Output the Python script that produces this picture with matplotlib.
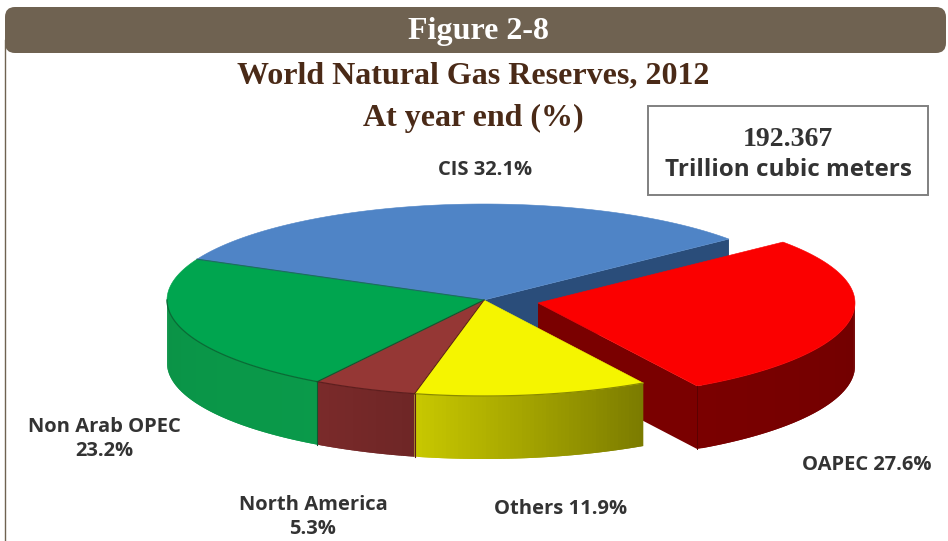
import numpy as np
import matplotlib
matplotlib.use("Agg")
import matplotlib.pyplot as plt
from matplotlib.collections import PolyCollection
from matplotlib.colors import to_rgb
from matplotlib.patches import FancyBboxPatch, Rectangle

# ---- data ----
categories = ["CIS", "Non Arab OPEC", "North America", "Others", "OAPEC"]
values = [32.1, 23.2, 5.3, 11.9, 27.6]
top_colors = ["#4f84c6", "#00a54f", "#953735", "#f5f500", "#fb0000"]
side_left = ["#2a4d7a", "#0b8f45", "#7a2a2a", "#c8c800", "#7a0000"]   # colour at the low-angle end
side_right = ["#2a4d7a", "#0a9a4a", "#6e2626", "#7a7a00", "#6c0000"]
wall_colors = {"CIS": "#2a4d7a", "OAPEC": "#7a0000"}
title_lines = ["World Natural Gas Reserves, 2012", "At year end (%)"]
figure_label = "Figure 2-8"
box_lines = ["192.367", "Trillion cubic meters"]

# ---- geometry ----
START = 39.4
CX, CY = 484, 300
RX, RY = 317, 96
DEPTH = 63
EXPLODE = {"OAPEC": (54, 3)}

fig = plt.figure(figsize=(9.48, 5.41), dpi=100, facecolor="white")
ax = fig.add_axes([0, 0, 1, 1])
ax.set_xlim(0, 948)
ax.set_ylim(541, 0)
ax.axis("off")

fracs = np.array(values) / sum(values) * 360
ends = START + np.cumsum(fracs)
starts = ends - fracs
sl = {c: (a, b, i) for i, (c, a, b) in enumerate(zip(categories, starts, ends))}

_z = [1]


def z():
    _z[0] += 1
    return _z[0]


def pt(name, deg, dz=0):
    dx, dy = EXPLODE.get(name, (0, 0))
    r = np.radians(deg)
    return CX + dx + RX * np.cos(r), CY + dy - RY * np.sin(r) + dz


def top(name):
    a, b, i = sl[name]
    th = np.linspace(a, b, 200)
    x, y = pt(name, th)
    dx, dy = EXPLODE.get(name, (0, 0))
    ax.fill(np.r_[CX + dx, x], np.r_[CY + dy, y], fc=top_colors[i], ec=top_colors[i],
            lw=0.4, zorder=z())


def side(name):
    a, b, i = sl[name]
    c0, c1 = np.array(to_rgb(side_left[i])), np.array(to_rgb(side_right[i]))
    for lo_v, hi_v in [(180, 360), (540, 720)]:
        l, h = max(a, lo_v), min(b, hi_v)
        if h <= l:
            continue
        edges = np.linspace(l, h, 60)
        polys, cols = [], []
        for k in range(len(edges) - 1):
            e0 = edges[k]
            e1 = edges[min(k + 2, len(edges) - 1)]   # overlap the next strip
            th = np.linspace(e0, e1, 5)
            x, y = pt(name, th)
            polys.append(np.c_[np.r_[x, x[::-1]], np.r_[y, y[::-1] + DEPTH]])
            t = (edges[k] - a) / (b - a)
            cols.append(c0 + (c1 - c0) * t)
        ax.add_collection(PolyCollection(polys, facecolors=cols, edgecolors="none",
                                         zorder=z()))


def wall(name, deg):
    x, y = pt(name, deg)
    dx, dy = EXPLODE.get(name, (0, 0))
    ax.fill([CX + dx, x, x, CX + dx],
            [CY + dy, y, y + DEPTH, CY + dy + DEPTH],
            color=wall_colors[name], lw=0, zorder=z())


def rim(name, lo, hi, col, lw=0.9):
    th = np.linspace(lo, hi, 100)
    x, y = pt(name, th)
    ax.plot(x, y, color=col, lw=lw, zorder=z())


def seam(deg, col):
    x, y = pt("", deg)
    ax.plot([CX, x], [CY, y], color=col, lw=0.8, zorder=z())
    ax.plot([x, x], [y, y + DEPTH], color=col, lw=0.8, zorder=z())


# back to front
wall("CIS", sl["CIS"][0])
side("Non Arab OPEC")
top("CIS")
top("Non Arab OPEC")
wall("OAPEC", sl["OAPEC"][0])
side("OAPEC")
top("OAPEC")
side("North America")
side("Others")
top("North America")
top("Others")

# dark rims and seams between slices
a, b, _ = sl["Non Arab OPEC"]
rim("Non Arab OPEC", 180, b, "#0a6a35")
a, b, _ = sl["North America"]
rim("North America", a, b, "#5e1e1e")
a, b, _ = sl["Others"]
rim("Others", a, b, "#8a8a00")
seam(sl["North America"][0], "#0a5a30")
seam(sl["Others"][0], "#5a1a1a")
x, y = pt("", sl["Non Arab OPEC"][0])
ax.plot([CX, x], [CY, y], color="#1f6a63", lw=0.8, zorder=z())
x, y = pt("OAPEC", sl["OAPEC"][0])
ax.plot([x, x], [y, y + DEPTH], color="#5a0000", lw=0.7, zorder=z())

# ---- frame and header ----
BROWN = "#6f6251"
ax.plot([5, 5], [40, 541], color=BROWN, lw=1, zorder=1)
ax.add_patch(FancyBboxPatch((5, 7), 941, 46, boxstyle="round,pad=0,rounding_size=10",
                            fc=BROWN, ec="none", zorder=50))
ax.text(479, 31, figure_label, color="white", ha="center", va="center", fontsize=23,
        fontweight="bold", family="Liberation Serif", zorder=51)

DARK = "#4a2a17"
ax.text(473, 76, title_lines[0], color=DARK, ha="center", va="center", fontsize=23,
        fontweight="bold", family="Liberation Serif", zorder=51)
ax.text(473, 118, title_lines[1], color=DARK, ha="center", va="center", fontsize=23,
        fontweight="bold", family="Liberation Serif", zorder=51)

# value box
ax.add_patch(Rectangle((648, 106), 280, 89, fc="white", ec="#808080", lw=1.4, zorder=40))
ax.text(788, 139, box_lines[0], color="#333333", ha="center", va="center", fontsize=20,
        fontweight="bold", family="Liberation Serif", zorder=51)
ax.text(788, 170, box_lines[1], color="#333333", ha="center", va="center", fontsize=17.5,
        fontweight="bold", family="Open Sans", zorder=51)

# slice labels
labels = {
    "CIS": ((485, 170), f"CIS {values[0]}%"),
    "Non Arab OPEC": ((104, 439), f"Non Arab OPEC\n{values[1]}%"),
    "North America": ((313, 517), f"North America\n{values[2]}%"),
    "Others": ((561, 509), f"Others {values[3]}%"),
    "OAPEC": ((867, 465), f"OAPEC {values[4]}%"),
}
for name, ((x, y), s) in labels.items():
    ax.text(x, y, s, color="#333333", ha="center", va="center", fontsize=14.5,
            linespacing=1.3, fontweight="bold", family="Open Sans", zorder=51)

fig.savefig("out.png", dpi=100, facecolor="white")
